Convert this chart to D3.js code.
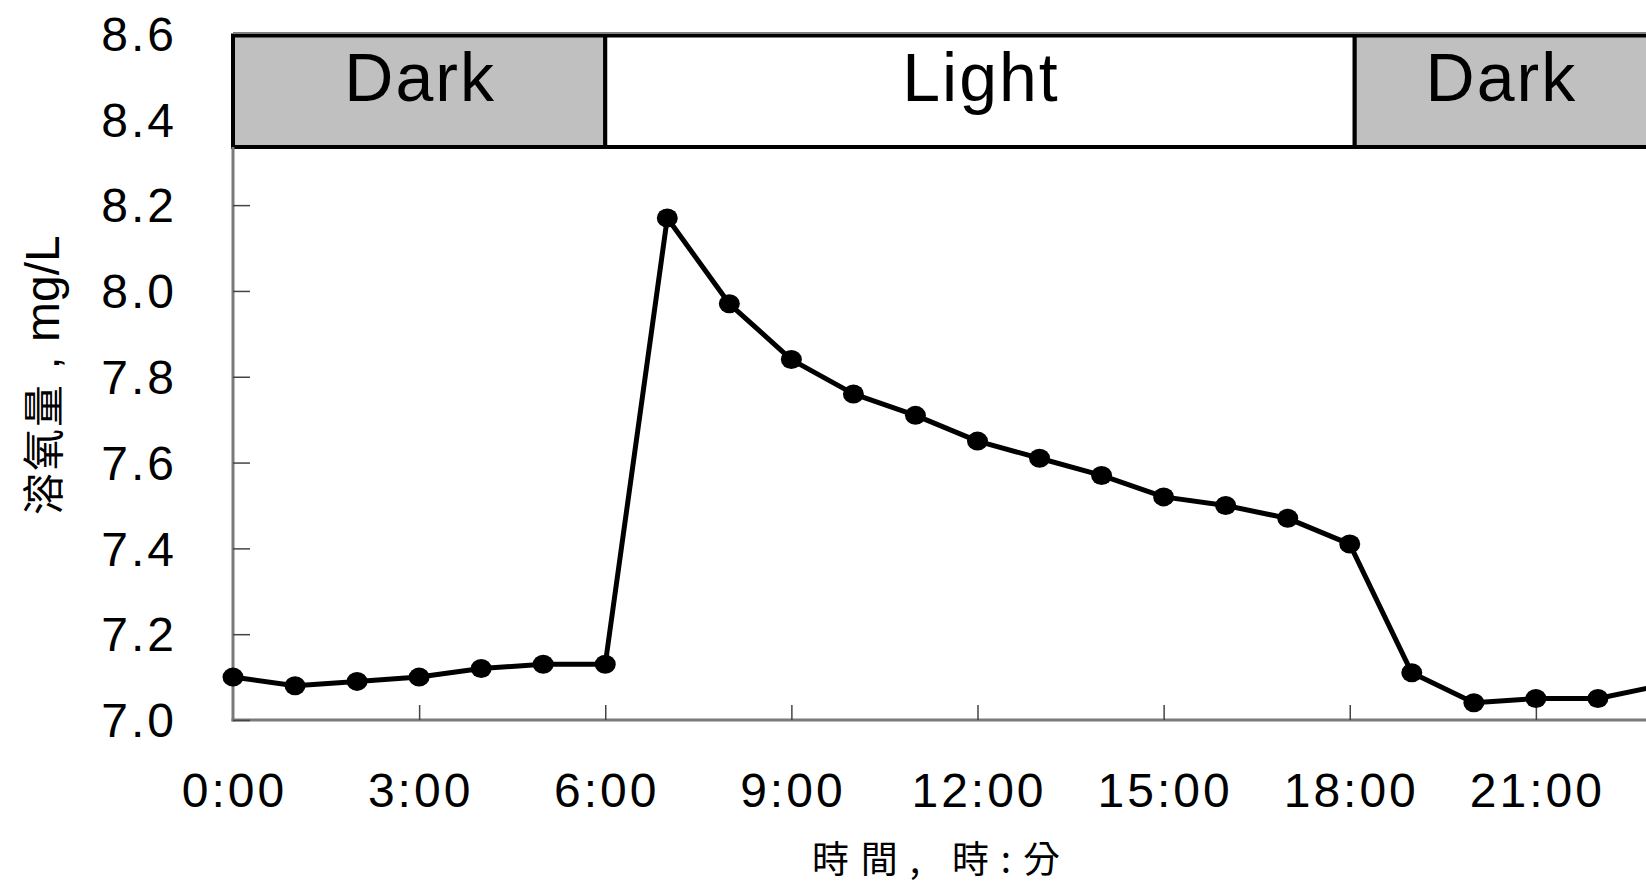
<!DOCTYPE html>
<html>
<head>
<meta charset="utf-8">
<script src="https://cdn.jsdelivr.net/npm/d3@7"></script>
<style>
  html, body { margin: 0; padding: 0; background: #fff; overflow: hidden; }
  svg { display: block; }
</style>
</head>
<body>
<svg id="chart" width="1646" height="884"></svg>
<script>
// Hourly dissolved-oxygen readings over one day (hour of day, mg/L)
const hours = [0, 1, 2, 3, 4, 5, 6, 7, 8, 9, 10, 11, 12, 13, 14, 15, 16, 17, 18, 19, 20, 21, 22, 23];
const oxygen = [7.10, 7.08, 7.09, 7.10, 7.12, 7.13, 7.13, 8.17, 7.97, 7.84, 7.76, 7.71,
                7.65, 7.61, 7.57, 7.52, 7.50, 7.47, 7.41, 7.11, 7.04, 7.05, 7.05, 7.08];

// Light / dark periods shown in the band along the top (hours)
const periodLabels = ["Dark", "Light", "Dark"];
const periodStart = [0, 6, 18.08];
const periodEnd = [6, 18.08, 24];

// Axis ticks
const xTickHours = [0, 3, 6, 9, 12, 15, 18, 21];
const xTickLabels = ["0:00", "3:00", "6:00", "9:00", "12:00", "15:00", "18:00", "21:00"];
const yTickValues = [7.0, 7.2, 7.4, 7.6, 7.8, 8.0, 8.2, 8.4, 8.6];
const yTickLabels = ["7.0", "7.2", "7.4", "7.6", "7.8", "8.0", "8.2", "8.4", "8.6"];

const yTitleCjk = "溶氧量";
const yTitleSep = ",";
const yTitleUnit = "mg/L";
const xTitle = "時間, 時:分";

const W = 1646, H = 884;
const svg = d3.select("#chart");
const latin = "'Liberation Sans', Arial, sans-serif";
const cjk = "'Noto Sans CJK TC', 'Noto Sans CJK SC', sans-serif";

const x = d3.scaleLinear().domain([0, 24]).range([233, 1722]);
const y = d3.scaleLinear().domain([7.0, 8.6]).range([720, 33.5]);

const bandTop = y(8.6);
const bandBottom = 147;

// Period band
const periods = periodLabels.map((d, i) => ({ label: d, s: periodStart[i], e: periodEnd[i] }));
const band = svg.append("g");
band.selectAll("rect")
  .data(periods)
  .join("rect")
  .attr("x", d => x(d.s))
  .attr("y", bandTop + 2)
  .attr("width", d => x(d.e) - x(d.s))
  .attr("height", bandBottom - bandTop - 2)
  .attr("fill", d => d.label === "Dark" ? "#c0c0c0" : "#ffffff")
  .attr("stroke", "#000")
  .attr("stroke-width", 4);

// Labels are centred on the visible part of each period
band.selectAll("text")
  .data(periods)
  .join("text")
  .attr("x", d => (x(d.s) + Math.min(x(d.e), W)) / 2 + 1)
  .attr("y", 101)
  .attr("text-anchor", "middle")
  .attr("font-family", latin)
  .attr("font-size", 68)
  .attr("letter-spacing", 2)
  .attr("fill", "#000")
  .text(d => d.label);

// Top frame line above the band
svg.append("line")
  .attr("x1", x(0)).attr("x2", W)
  .attr("y1", bandTop - 0.5).attr("y2", bandTop - 0.5)
  .attr("stroke", "#808080").attr("stroke-width", 2);

// Axes frame
svg.append("line")
  .attr("x1", x(0)).attr("x2", x(0))
  .attr("y1", bandBottom).attr("y2", y(7.0) + 1.5)
  .attr("stroke", "#7a7a7a").attr("stroke-width", 3);
svg.append("line")
  .attr("x1", x(0) - 1.5).attr("x2", W)
  .attr("y1", y(7.0)).attr("y2", y(7.0))
  .attr("stroke", "#7a7a7a").attr("stroke-width", 3);

// Y axis ticks (inside) and labels
const yAxis = d3.axisRight(y)
  .tickValues(yTickValues.filter(v => v <= 8.2))
  .tickSize(17)
  .tickFormat("");
const yAxisG = svg.append("g").attr("transform", `translate(${x(0)},0)`).call(yAxis);
yAxisG.select(".domain").remove();
yAxisG.selectAll(".tick line").attr("stroke", "#444").attr("stroke-width", 1.5);

const tickSpacing = 3;
svg.append("g").selectAll("text")
  .data(yTickValues.map((v, i) => ({ v, t: yTickLabels[i] })))
  .join("text")
  .attr("x", 174 + tickSpacing)
  .attr("y", d => y(d.v))
  .attr("dy", "0.36em")
  .attr("text-anchor", "end")
  .attr("font-family", latin)
  .attr("font-size", 48)
  .attr("letter-spacing", tickSpacing)
  .attr("fill", "#000")
  .text(d => d.t);

// X axis ticks (inside) and labels
const xAxis = d3.axisTop(x)
  .tickValues(xTickHours.slice(1))
  .tickSize(15)
  .tickFormat("");
const xAxisG = svg.append("g").attr("transform", `translate(0,${y(7.0)})`).call(xAxis);
xAxisG.select(".domain").remove();
xAxisG.selectAll(".tick line").attr("stroke", "#444").attr("stroke-width", 1.5);

svg.append("g").selectAll("text")
  .data(xTickHours.map((h, i) => ({ h, t: xTickLabels[i] })))
  .join("text")
  .attr("x", d => x(d.h) + tickSpacing / 2)
  .attr("y", 807)
  .attr("text-anchor", "middle")
  .attr("font-family", latin)
  .attr("font-size", 48)
  .attr("letter-spacing", tickSpacing)
  .attr("fill", "#000")
  .text(d => d.t);

// Data line and markers
const pts = hours.map((h, i) => [h, oxygen[i]]);
svg.append("path")
  .datum(pts)
  .attr("fill", "none")
  .attr("stroke", "#000")
  .attr("stroke-width", 5)
  .attr("stroke-linejoin", "round")
  .attr("d", d3.line().x(d => x(d[0])).y(d => y(d[1])));

svg.append("g").selectAll("ellipse")
  .data(pts)
  .join("ellipse")
  .attr("cx", d => x(d[0]))
  .attr("cy", d => y(d[1]))
  .attr("rx", 10.5)
  .attr("ry", 9.5)
  .attr("fill", "#000");

// Y axis title, reading bottom to top
const yt = svg.append("text")
  .attr("transform", "translate(59,515) rotate(-90)")
  .attr("text-anchor", "start")
  .attr("fill", "#000");
yt.append("tspan").attr("x", 0).attr("font-family", cjk).attr("font-size", 42).attr("letter-spacing", 2).text(yTitleCjk);
yt.append("tspan").attr("x", 146).attr("font-family", latin).attr("font-size", 44).text(yTitleSep);
yt.append("tspan").attr("x", 173).attr("font-family", latin).attr("font-size", 48).text(yTitleUnit);

// X axis title
svg.append("text")
  .attr("x", 936)
  .attr("y", 873)
  .attr("text-anchor", "middle")
  .attr("font-family", cjk)
  .attr("font-size", 37)
  .attr("textLength", 248)
  .attr("lengthAdjust", "spacing")
  .attr("fill", "#000")
  .text(xTitle);
</script>
</body>
</html>
